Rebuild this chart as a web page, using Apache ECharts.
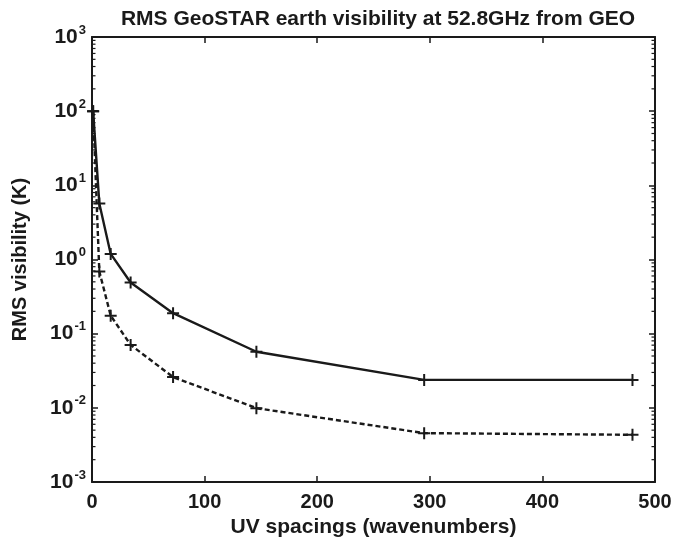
<!DOCTYPE html>
<html>
<head>
<meta charset="utf-8">
<script src="https://cdn.jsdelivr.net/npm/echarts@6.0.0/dist/echarts.min.js"></script>
<style>
  html, body { margin: 0; padding: 0; background: #fff; }
  #chart { width: 686px; height: 544px; }
</style>
</head>
<body>
<div id="chart"></div>
<script>
const spacings = [1, 6.5, 16.6, 34.3, 72, 146, 295, 480]
const rmsSolid = [100, 5.7, 1.19, 0.49, 0.189, 0.057, 0.0238, 0.0238]
const rmsDashed = [100, 0.69, 0.175, 0.0706, 0.026, 0.0099, 0.00456, 0.00433]
const xTicks = [0, 100, 200, 300, 400, 500]
const yMin = 0.001
const yMax = 1000

// minor log ticks (2..9 per decade)
const minorTicks = []
for (let e = -3; e < 3; e++) {
  for (let m = 2; m <= 9; m++) minorTicks.push([0, m * Math.pow(10, e)])
}

const ink = '#1a1a1a'
const font = 'Liberation Sans, Arial, sans-serif'
const plus = 'path://M5,0H7V5H12V7H7V12H5V7H0V5H5Z'

const chart = echarts.init(document.getElementById('chart'))

const xBase = {
  type: 'value',
  min: xTicks[0],
  max: xTicks[xTicks.length - 1],
  interval: 100,
  splitLine: { show: false },
  axisLine: { onZero: false, lineStyle: { color: ink, width: 2 } },
  axisTick: { inside: true, length: 6, lineStyle: { color: ink, width: 1.5 } },
}
const yBase = {
  type: 'log',
  logBase: 10,
  min: yMin,
  max: yMax,
  splitNumber: 6,
  splitLine: { show: false },
  axisLine: { onZero: false, lineStyle: { color: ink, width: 2 } },
  axisTick: { inside: true, length: 6, lineStyle: { color: ink, width: 1.5 } },
}

chart.setOption({
  animation: false,
  backgroundColor: '#fff',
  title: {
    text: 'RMS GeoSTAR earth visibility at 52.8GHz from GEO',
    left: 373,
    textAlign: 'center',
    top: 4,
    textStyle: { fontFamily: font, fontSize: 21, fontWeight: 'bold', color: ink },
  },
  grid: { left: 92, top: 37, width: 563, height: 445 },
  xAxis: [
    Object.assign({}, xBase, {
      position: 'bottom',
      name: 'UV spacings (wavenumbers)',
      nameLocation: 'middle',
      nameGap: 28,
      nameTextStyle: { fontFamily: font, fontSize: 21, fontWeight: 'bold', color: ink },
      axisLabel: { margin: 10, fontFamily: font, fontSize: 20, fontWeight: 'bold', color: ink },
    }),
    Object.assign({}, xBase, { position: 'top', axisLabel: { show: false } }),
  ],
  yAxis: [
    Object.assign({}, yBase, {
      position: 'left',
      name: 'RMS visibility (K)',
      nameLocation: 'middle',
      nameGap: 62,
      nameTextStyle: { fontFamily: font, fontSize: 20, fontWeight: 'bold', color: ink },
      axisLabel: {
        margin: 6,
        formatter: (v) => '{b|10}{s|' + Math.round(Math.log10(v)) + '}',
        rich: {
          b: { fontFamily: font, fontSize: 21, fontWeight: 'bold', color: ink },
          s: { fontFamily: font, fontSize: 13, fontWeight: 'bold', color: ink, padding: [0, 0, 14, 1] },
        },
      },
    }),
    Object.assign({}, yBase, { position: 'right', axisLabel: { show: false } }),
  ],
  series: [
    {
      type: 'line',
      data: spacings.map((x, i) => [x, rmsSolid[i]]),
      symbol: plus,
      symbolSize: 12,
      itemStyle: { color: ink },
      lineStyle: { color: ink, width: 2.4 },
    },
    {
      type: 'line',
      data: spacings.map((x, i) => [x, rmsDashed[i]]),
      symbol: plus,
      symbolSize: 12,
      itemStyle: { color: ink },
      lineStyle: { color: ink, width: 2.4, type: [5, 3] },
    },
    {
      type: 'custom',
      silent: true,
      data: minorTicks,
      renderItem: (params, api) => {
        const v = api.value(1)
        const l = api.coord([xTicks[0], v])
        const r = api.coord([xTicks[xTicks.length - 1], v])
        const style = { stroke: ink, lineWidth: 1.2 }
        return {
          type: 'group',
          children: [
            { type: 'line', shape: { x1: l[0], y1: l[1], x2: l[0] + 3.5, y2: l[1] }, style },
            { type: 'line', shape: { x1: r[0], y1: r[1], x2: r[0] - 3.5, y2: r[1] }, style },
          ],
        }
      },
    },
  ],
})
</script>
</body>
</html>
